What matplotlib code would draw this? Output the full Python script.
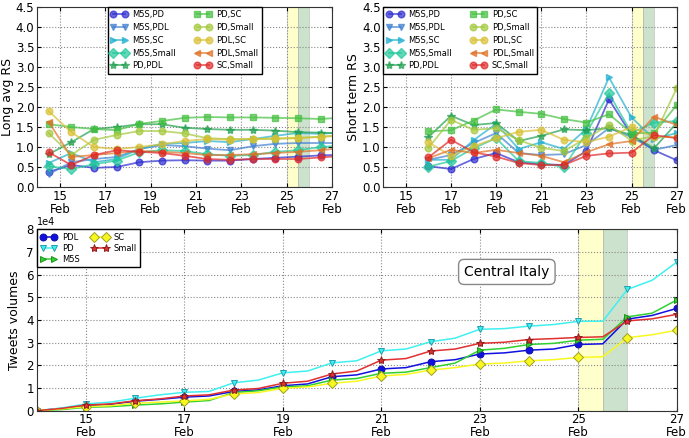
import matplotlib
matplotlib.use("Agg")
import matplotlib.pyplot as plt
from matplotlib.ticker import FixedLocator, ScalarFormatter

# ---- data ----
pair_names = ["M5S,PD", "M5S,PDL", "M5S,SC", "M5S,Small", "PD,PDL",
              "PD,SC", "PD,Small", "PDL,SC", "PDL,Small", "SC,Small"]

# long average RS, markers at half days (last point only extends the line)
long_days = [14.5, 15.5, 16.5, 17.5, 18.5, 19.5, 20.5, 21.5, 22.5, 23.5, 24.5, 25.5, 26.5, 27.0]
long_m5s_pd = [0.38, 0.55, 0.48, 0.50, 0.62, 0.66, 0.67, 0.66, 0.66, 0.70, 0.73, 0.76, 0.79, 0.80]
long_m5s_pdl = [0.32, 0.62, 0.70, 0.75, 0.95, 1.05, 1.02, 0.96, 0.92, 1.02, 1.08, 1.10, 1.10, 1.10]
long_m5s_sc = [0.60, 0.85, 0.62, 0.70, 0.95, 1.08, 1.10, 1.15, 1.12, 1.20, 1.28, 1.35, 1.33, 1.35]
long_m5s_small = [0.52, 0.45, 0.57, 0.66, 0.87, 0.92, 0.90, 0.82, 0.78, 0.80, 0.88, 0.92, 1.00, 1.02]
long_pd_pdl = [0.82, 1.12, 1.45, 1.50, 1.57, 1.57, 1.48, 1.45, 1.43, 1.43, 1.41, 1.37, 1.36, 1.35]
long_pd_sc = [1.57, 1.50, 1.45, 1.42, 1.58, 1.65, 1.73, 1.75, 1.74, 1.74, 1.73, 1.72, 1.70, 1.72]
long_pd_small = [1.35, 0.80, 1.18, 1.30, 1.40, 1.40, 1.34, 1.22, 1.20, 1.20, 1.20, 1.23, 1.26, 1.28]
long_pdl_sc = [1.90, 1.37, 1.00, 0.95, 1.00, 1.07, 1.15, 1.20, 1.18, 1.20, 1.22, 1.22, 1.25, 1.27]
long_pdl_small = [1.63, 0.75, 0.80, 0.85, 0.90, 0.88, 0.85, 0.80, 0.80, 0.82, 0.85, 0.88, 0.92, 0.95]
long_sc_small = [0.87, 0.55, 0.80, 0.92, 0.88, 0.85, 0.78, 0.70, 0.68, 0.70, 0.70, 0.70, 0.74, 0.76]

# short term RS, one value per day
short_days = [16, 17, 18, 19, 20, 21, 22, 23, 24, 25, 26, 27]
short_m5s_pd = [0.52, 0.45, 0.70, 0.85, 0.62, 0.57, 0.55, 0.90, 2.19, 1.30, 0.92, 0.67]
short_m5s_pdl = [0.68, 0.80, 1.10, 1.35, 0.85, 0.80, 0.82, 1.05, 1.47, 1.25, 0.93, 1.05]
short_m5s_sc = [0.68, 0.68, 1.17, 1.58, 0.95, 1.12, 0.95, 1.45, 2.74, 1.74, 1.20, 1.35]
short_m5s_small = [0.51, 0.65, 0.97, 1.22, 0.65, 0.60, 0.50, 1.35, 2.34, 1.35, 1.61, 1.65]
short_pd_pdl = [1.25, 1.78, 1.55, 1.60, 1.15, 1.28, 1.44, 1.42, 1.47, 1.30, 0.97, 1.60]
short_pd_sc = [1.39, 1.42, 1.66, 1.94, 1.88, 1.83, 1.70, 1.61, 1.82, 1.35, 1.35, 2.05]
short_pd_small = [0.98, 1.68, 1.43, 1.47, 1.17, 0.98, 0.90, 1.22, 1.55, 1.16, 1.27, 2.47]
short_pdl_sc = [1.12, 0.78, 1.02, 1.22, 1.38, 1.43, 1.18, 1.12, 1.26, 1.50, 1.25, 1.25]
short_pdl_small = [0.72, 0.93, 0.85, 0.93, 0.85, 0.78, 0.62, 0.87, 1.07, 1.15, 1.76, 1.55]
short_sc_small = [0.74, 1.18, 0.87, 0.76, 0.60, 0.55, 0.55, 0.78, 0.84, 0.86, 1.30, 1.22]

long_vals = [long_m5s_pd, long_m5s_pdl, long_m5s_sc, long_m5s_small, long_pd_pdl,
             long_pd_sc, long_pd_small, long_pdl_sc, long_pdl_small, long_sc_small]
short_vals = [short_m5s_pd, short_m5s_pdl, short_m5s_sc, short_m5s_small, short_pd_pdl,
              short_pd_sc, short_pd_small, short_pdl_sc, short_pdl_small, short_sc_small]

# cumulative tweet volumes (x1e4), every half day (markers on whole days)
vol_days = [14 + 0.5 * i for i in range(27)]
vol_pdl = [0, 0.10, 0.22, 0.28, 0.42, 0.50, 0.60, 0.65, 0.85, 0.92, 1.10, 1.18, 1.50, 1.58,
           1.84, 1.90, 2.16, 2.25, 2.50, 2.55, 2.67, 2.72, 2.92, 2.95, 4.04, 4.20, 4.51]
vol_pd = [0, 0.12, 0.30, 0.38, 0.55, 0.70, 0.81, 0.85, 1.23, 1.35, 1.67, 1.75, 2.11, 2.20,
          2.64, 2.72, 3.04, 3.20, 3.59, 3.62, 3.73, 3.80, 3.94, 3.95, 5.35, 5.75, 6.55]
vol_m5s = [0, 0.05, 0.15, 0.18, 0.25, 0.30, 0.38, 0.45, 0.80, 0.88, 1.05, 1.10, 1.35, 1.42,
           1.65, 1.70, 1.90, 2.10, 2.67, 2.75, 2.92, 2.97, 3.11, 3.15, 4.14, 4.30, 4.88]
vol_sc = [0, 0.08, 0.18, 0.22, 0.33, 0.38, 0.43, 0.50, 0.74, 0.80, 0.99, 1.05, 1.21, 1.30,
          1.53, 1.60, 1.79, 1.90, 2.06, 2.10, 2.20, 2.25, 2.35, 2.38, 3.22, 3.35, 3.55]
vol_small = [0, 0.10, 0.25, 0.30, 0.44, 0.52, 0.65, 0.70, 0.91, 0.98, 1.21, 1.30, 1.62, 1.75,
             2.23, 2.30, 2.63, 2.72, 2.97, 3.02, 3.14, 3.18, 3.23, 3.26, 3.96, 4.05, 4.25]
party_names = ["PDL", "PD", "M5S", "SC", "Small"]
party_vals = [vol_pdl, vol_pd, vol_m5s, vol_sc, vol_small]

day_ticks = [15, 17, 19, 21, 23, 25, 27]
day_labels = ["%d\nFeb" % d for d in day_ticks]

# ---- styles ----
pair_colors = ["#2b2bd0", "#3f7fd0", "#22b0d0", "#22c89a", "#22a050",
               "#44c040", "#a2c83a", "#d8c032", "#e07024", "#e02828"]
pair_markers = ["o", "v", ">", "D", "*", "s", "o", "o", "<", "o"]
party_colors = ["#1010e0", "#40f0f0", "#30d030", "#f8f820", "#e03030"]
party_edges = ["#1010a0", "#20a0b0", "#209020", "#a0a020", "#902020"]
party_markers = ["o", "v", ">", "D", "*"]

plt.rcParams["font.size"] = 8.5

fig = plt.figure(figsize=(6.89, 4.38), dpi=100)
ax1 = fig.add_axes([0.0541, 0.573, 0.4278, 0.411])
ax2 = fig.add_axes([0.5563, 0.573, 0.4258, 0.411])
ax3 = fig.add_axes([0.0533, 0.0623, 0.9288, 0.4142])


def dress(ax):
    ax.set_xlim(14, 27)
    ax.xaxis.set_major_locator(FixedLocator(day_ticks))
    ax.set_xticklabels(day_labels, linespacing=1.0)
    ax.grid(True, linestyle=":", color="#888888", linewidth=0.8)
    ax.tick_params(direction="in", length=3, labelsize=8.5, pad=2, top=True, right=True)
    for s in ax.spines.values():
        s.set_color("#333333")
    ax.axvspan(25, 25.5, facecolor="#ffff80", alpha=0.4, edgecolor="#999999", linewidth=0.6)
    ax.axvspan(25.5, 26, facecolor="#80b880", alpha=0.4, edgecolor="#999999", linewidth=0.6)


leg_kw = dict(fontsize=6, borderaxespad=0, numpoints=2, fancybox=False,
              edgecolor="black", framealpha=1, handlelength=2.0, handletextpad=0.6,
              borderpad=0.4)

for ax, xs, vals, lab in [(ax1, long_days, long_vals, "Long avg RS"),
                          (ax2, short_days, short_vals, "Short term RS")]:
    dress(ax)
    for name, ys, c, m in zip(pair_names, vals, pair_colors, pair_markers):
        ms = 6 if m == "*" else 4.8
        ax.plot(xs, ys, color=c, marker=m, markersize=ms, linewidth=1.3, alpha=0.7,
                markeredgecolor=c, label=name,
                markevery=slice(0, 13) if ax is ax1 else None)
    ax.set_ylim(0, 4.5)
    ax.set_yticks([0.5 * i for i in range(10)])
    ax.set_yticklabels(["%.1f" % (0.5 * i) for i in range(10)])
    ax.set_ylabel(lab, fontsize=9, labelpad=1)

ax1.legend(loc="upper center", ncol=2, columnspacing=2.2, labelspacing=0.45, **leg_kw)
ax2.legend(loc="upper left", ncol=2, columnspacing=2.2, labelspacing=0.45, **leg_kw)

dress(ax3)
for name, ys, c, ec, m in zip(party_names, party_vals, party_colors, party_edges, party_markers):
    ms = 6 if m == "*" else 5
    ax3.plot(vol_days, [v * 1e4 for v in ys], color=c, marker=m, markersize=ms,
             markeredgecolor=ec, markeredgewidth=0.7, linewidth=1.1, label=name,
             markevery=2)
ax3.set_ylim(0, 8e4)
ax3.set_yticks([i * 1e4 for i in range(9)])
fmt = ScalarFormatter(useMathText=False)
fmt.set_powerlimits((0, 0))
ax3.yaxis.set_major_formatter(fmt)
ax3.yaxis.get_offset_text().set_fontsize(7)
ax3.set_ylabel("Tweets volumes", fontsize=9, labelpad=4)
ax3.legend(loc="upper left", ncol=2, columnspacing=1.5, labelspacing=0.25, **leg_kw)
ax3.text(23.55, 6.12e4, "Central Italy", fontsize=10, ha="center", va="center",
         bbox=dict(boxstyle="round,pad=0.4", facecolor="white", edgecolor="#888888"))

fig.savefig("out.png", dpi=100)
